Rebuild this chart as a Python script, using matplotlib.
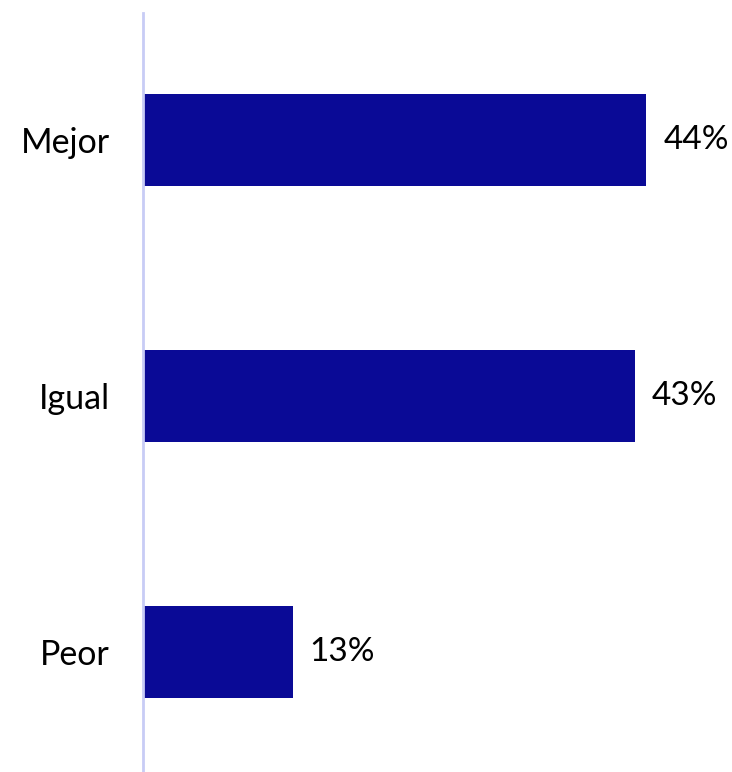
import matplotlib
matplotlib.use("Agg")
import matplotlib.pyplot as plt

categories = ["Mejor", "Igual", "Peor"]
values = [44, 43, 13]
value_labels = ["44%", "43%", "13%"]

bar_color = "#0A0A96"
axis_color = "#C8CCF5"

W, H = 732, 772
fig = plt.figure(figsize=(W / 100, H / 100), dpi=100)
left_px, top_px = 143, 13
ax = fig.add_axes([left_px / W, 0, 1 - left_px / W, 1 - top_px / H])

y = list(range(len(categories)))
ax.barh(y, values, height=0.36, color=bar_color, left=0.1)
ax.set_ylim(2.47, -0.496)
ax.set_xlim(0, 51.6)

for s in ["top", "right", "bottom"]:
    ax.spines[s].set_visible(False)
ax.spines["left"].set_color(axis_color)
ax.spines["left"].set_linewidth(2)
ax.set_xticks([])
ax.set_yticks(y)
ax.set_yticklabels(categories, fontsize=24.5, family=["Lato", "DejaVu Sans"])
ax.tick_params(axis="y", length=0, pad=24)

for yi, v, lab in zip(y, values, value_labels):
    ax.text(v + 1.6, yi, lab, va="center", ha="left", fontsize=24,
            family=["Lato", "DejaVu Sans"])

fig.savefig("out.png", dpi=100)
